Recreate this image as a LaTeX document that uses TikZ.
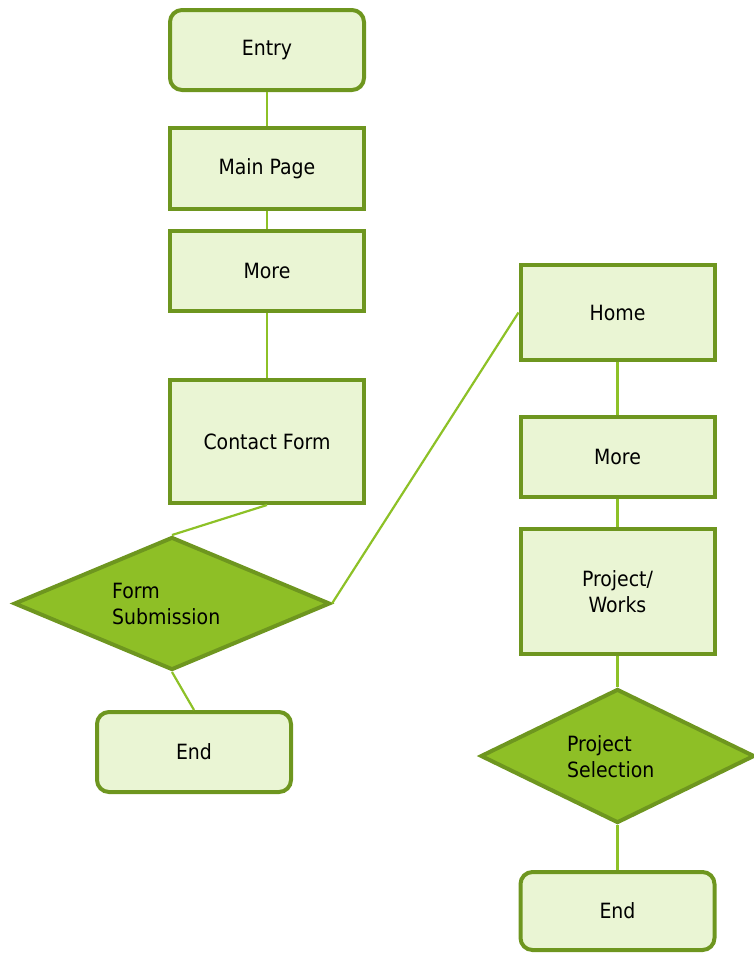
\documentclass[tikz,border=0pt]{standalone}
\usepackage{fontspec}
\setmainfont{DejaVu Sans Condensed}
\usetikzlibrary{shapes.geometric}
\definecolor{edgegreen}{HTML}{6E961F}
\definecolor{boxfill}{HTML}{EAF5D4}
\definecolor{decfill}{HTML}{8EBF26}
\definecolor{linkgreen}{HTML}{8DC127}
\begin{document}
\begin{tikzpicture}[x=1pt,y=-1pt,
  font=\fontsize{21pt}{26pt}\selectfont,
  stepbox/.style={draw=edgegreen, line width=4pt, fill=boxfill,
    minimum width=194pt, inner sep=0pt, text=black, align=center},
  roundbox/.style={stepbox, rounded corners=12pt},
  decision/.style={diamond, draw=edgegreen, line width=4pt, fill=decfill,
    inner sep=0pt},
  dectext/.style={align=left, anchor=west, inner sep=0pt},
  link/.style={draw=linkgreen, line width=2.2pt}]
\useasboundingbox (0,0) rectangle (754,954);

% left column
\node[roundbox, minimum height=80pt] (entry) at (267,50) {Entry};
\node[stepbox, minimum height=81pt] (main) at (267,168.5) {Main Page};
\node[stepbox, minimum height=80pt] (more1) at (267,271) {More};
\node[stepbox, minimum height=123pt] (contact) at (267,441.5) {Contact Form};
\node[decision, minimum width=316pt, minimum height=133pt] (formsub) at (172,603.5) {};
\node[dectext] (formsubtext) at (112,604) {Form\\Submission};
\node[roundbox, minimum height=80pt] (end1) at (194,752) {End};

% right column
\node[stepbox, minimum height=95pt] (home) at (617.5,312.5) {Home};
\node[stepbox, minimum height=80pt] (more2) at (617.5,457) {More};
\node[stepbox, minimum height=125pt] (works) at (617.5,591.5) {Project/\\Works};
\node[decision, minimum width=274pt, minimum height=134pt] (projsel) at (617.5,756) {};
\node[dectext] (projseltext) at (567,757) {Project\\Selection};
\node[roundbox, minimum height=78pt] (end2) at (617.5,911) {End};

% connectors
\draw[link] (entry) -- (main);
\draw[link] (main) -- (more1);
\draw[link] (more1) -- (contact);
\draw[link] (contact.south) -- (formsub.north);
\draw[link] (formsub.east) -- (home.west);
\draw[link] (formsub.south) -- (end1.north);
\draw[link] (home) -- (more2);
\draw[link] (more2) -- (works);
\draw[link] (works) -- (projsel);
\draw[link] (projsel) -- (end2);
\end{tikzpicture}
\end{document}
